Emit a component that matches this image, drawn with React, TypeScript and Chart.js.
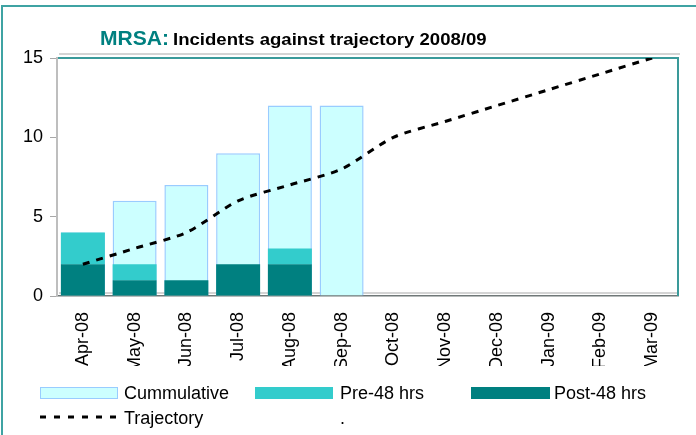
import React, { useEffect, useRef } from "react";
import { Chart, registerables } from "chart.js";

Chart.register(...registerables);

const categories = ["Apr-08", "May-08", "Jun-08", "Jul-08", "Aug-08", "Sep-08", "Oct-08", "Nov-08", "Dec-08", "Jan-09", "Feb-09", "Mar-09"];
const cumulative = [4, 6, 7, 9, 12, 12, null, null, null, null, null, null];
const pre48 = [2, 1, 0, 0, 1, 0, null, null, null, null, null, null];
const post48 = [2, 1, 1, 2, 2, 0, null, null, null, null, null, null];
const trajectory = [2, 3, 4, 6, 7, 8, 10, 11, 12, 13, 14, 15];
const yTicks = [0, 5, 10, 15];

const FONT = '"Liberation Sans", Arial, sans-serif';
const TEAL = "#008080";
const PRE = "#33CCCC";
const CUM_FILL = "#CCFFFF";
const CUM_BORDER = "#99CCFF";

const framePlugin = {
  id: "frame",
  beforeDatasetsDraw(chart: any) {
    const { ctx, chartArea } = chart;
    const { left, right, top, bottom } = chartArea;
    ctx.save();
    ctx.strokeStyle = "#D4D4D4";
    ctx.lineWidth = 2;
    ctx.beginPath();
    ctx.moveTo(left + 2, top - 4);
    ctx.lineTo(right + 2, top - 4);
    ctx.moveTo(left + 2, bottom - 3);
    ctx.lineTo(right, bottom - 3);
    ctx.stroke();
    ctx.strokeStyle = "#3A9A9A";
    ctx.lineWidth = 2;
    ctx.beginPath();
    ctx.moveTo(left + 1, top);
    ctx.lineTo(right, top);
    ctx.lineTo(right, bottom);
    ctx.stroke();
    ctx.restore();
  },
};

export default function App() {
  const ref = useRef<HTMLCanvasElement | null>(null);

  useEffect(() => {
    if (!ref.current) return;
    Chart.defaults.font.family = FONT;
    const chart = new Chart(ref.current, {
      type: "bar",
      data: {
        labels: categories,
        datasets: [
          {
            type: "line",
            label: "Trajectory",
            data: trajectory,
            borderColor: "#000000",
            borderWidth: 3,
            borderDash: [7, 7],
            pointRadius: 0,
            tension: 0.25,
            fill: false,
            order: 0,
            stack: "traj",
          } as any,
          {
            type: "bar",
            label: "Post-48 hrs",
            data: post48,
            backgroundColor: TEAL,
            borderWidth: 0,
            stack: "inc",
            order: 1,
            grouped: false,
            barPercentage: 0.85,
            categoryPercentage: 1,
          } as any,
          {
            type: "bar",
            label: "Pre-48 hrs",
            data: pre48,
            backgroundColor: PRE,
            borderWidth: 0,
            stack: "inc",
            order: 2,
            grouped: false,
            barPercentage: 0.85,
            categoryPercentage: 1,
          } as any,
          {
            type: "bar",
            label: "Cummulative",
            data: cumulative,
            backgroundColor: CUM_FILL,
            borderColor: CUM_BORDER,
            borderWidth: 1.5,
            stack: "cum",
            order: 3,
            grouped: false,
            barPercentage: 0.85,
            categoryPercentage: 1,
          } as any,
        ],
      },
      options: {
        animation: false,
        responsive: false,
        maintainAspectRatio: false,
        layout: { padding: { top: 58, right: 18, bottom: 69, left: 0 } },
        plugins: {
          legend: { display: false },
          title: { display: false },
          tooltip: { enabled: false },
        },
        scales: {
          x: {
            offset: true,
            grid: { display: false, drawTicks: false },
            border: { display: true, color: "#707878", width: 1.5 },
            ticks: {
              minRotation: 90,
              maxRotation: 90,
              autoSkip: false,
              padding: 16,
              color: "#000000",
              font: { size: 18, family: FONT },
            },
            afterFit: (scale: any) => {
              scale.height = 70;
            },
          },
          y: {
            stacked: true,
            min: 0,
            max: 15,
            afterBuildTicks: (scale: any) => {
              scale.ticks = yTicks.map((v) => ({ value: v }));
            },
            grid: {
              display: true,
              drawOnChartArea: false,
              drawTicks: true,
              tickLength: 7,
              color: "#A8A8A8",
              lineWidth: 1,
            },
            border: { display: true, color: "#BEBEBE", width: 2 },
            ticks: {
              padding: 7,
              color: "#000000",
              font: { size: 18, family: FONT },
            },
            afterFit: (scale: any) => {
              scale.width = 57;
            },
          },
        },
      },
      plugins: [framePlugin],
    });
    return () => chart.destroy();
  }, []);

  const text18: React.CSSProperties = {
    position: "absolute",
    fontFamily: FONT,
    fontSize: 18,
    lineHeight: "18px",
    color: "#000",
    whiteSpace: "nowrap",
  };

  return (
    <div
      style={{
        position: "fixed",
        left: 0,
        top: 0,
        width: 696,
        height: 435,
        background: "#fff",
        overflow: "hidden",
      }}
    >
      <div
        style={{
          position: "absolute",
          left: 1,
          top: 5,
          width: 800,
          height: 600,
          borderTop: "2px solid #3FA3A3",
          borderLeft: "2px solid #3FA3A3",
        }}
      />
      <canvas ref={ref} width={696} height={435} style={{ position: "absolute", left: 0, top: 0, width: 696, height: 435 }} />
      <div
        style={{
          position: "absolute",
          left: 100,
          top: 28.5,
          fontFamily: FONT,
          fontWeight: "bold",
          fontSize: 19.5,
          lineHeight: "19.5px",
          color: TEAL,
          transform: "scaleX(1.08)",
          transformOrigin: "left",
          whiteSpace: "nowrap",
        }}
      >
        MRSA:
      </div>
      <div
        style={{
          position: "absolute",
          left: 173,
          top: 31,
          fontFamily: FONT,
          fontWeight: "bold",
          fontSize: 16.5,
          lineHeight: "16.5px",
          color: "#000",
          transform: "scaleX(1.125)",
          transformOrigin: "left",
          whiteSpace: "nowrap",
        }}
      >
        Incidents against trajectory 2008/09
      </div>

      <div style={{ position: "absolute", left: 40, top: 387, width: 78, height: 12, boxSizing: "border-box", background: CUM_FILL, border: "1px solid " + CUM_BORDER }} />
      <div style={{ ...text18, left: 124, top: 384 }}>Cummulative</div>
      <div style={{ position: "absolute", left: 255, top: 387, width: 78, height: 12, background: PRE }} />
      <div style={{ ...text18, left: 340, top: 384 }}>Pre-48 hrs</div>
      <div style={{ position: "absolute", left: 471, top: 387, width: 79, height: 12, background: TEAL }} />
      <div style={{ ...text18, left: 554, top: 384 }}>Post-48 hrs</div>

      <svg style={{ position: "absolute", left: 40, top: 412 }} width={84} height={10}>
        <line x1={0} y1={5} x2={82} y2={5} stroke="#000" strokeWidth={3} strokeDasharray="6 8" />
      </svg>
      <div style={{ ...text18, left: 124, top: 409 }}>Trajectory</div>
      <div style={{ ...text18, left: 340, top: 409 }}>.</div>
    </div>
  );
}
